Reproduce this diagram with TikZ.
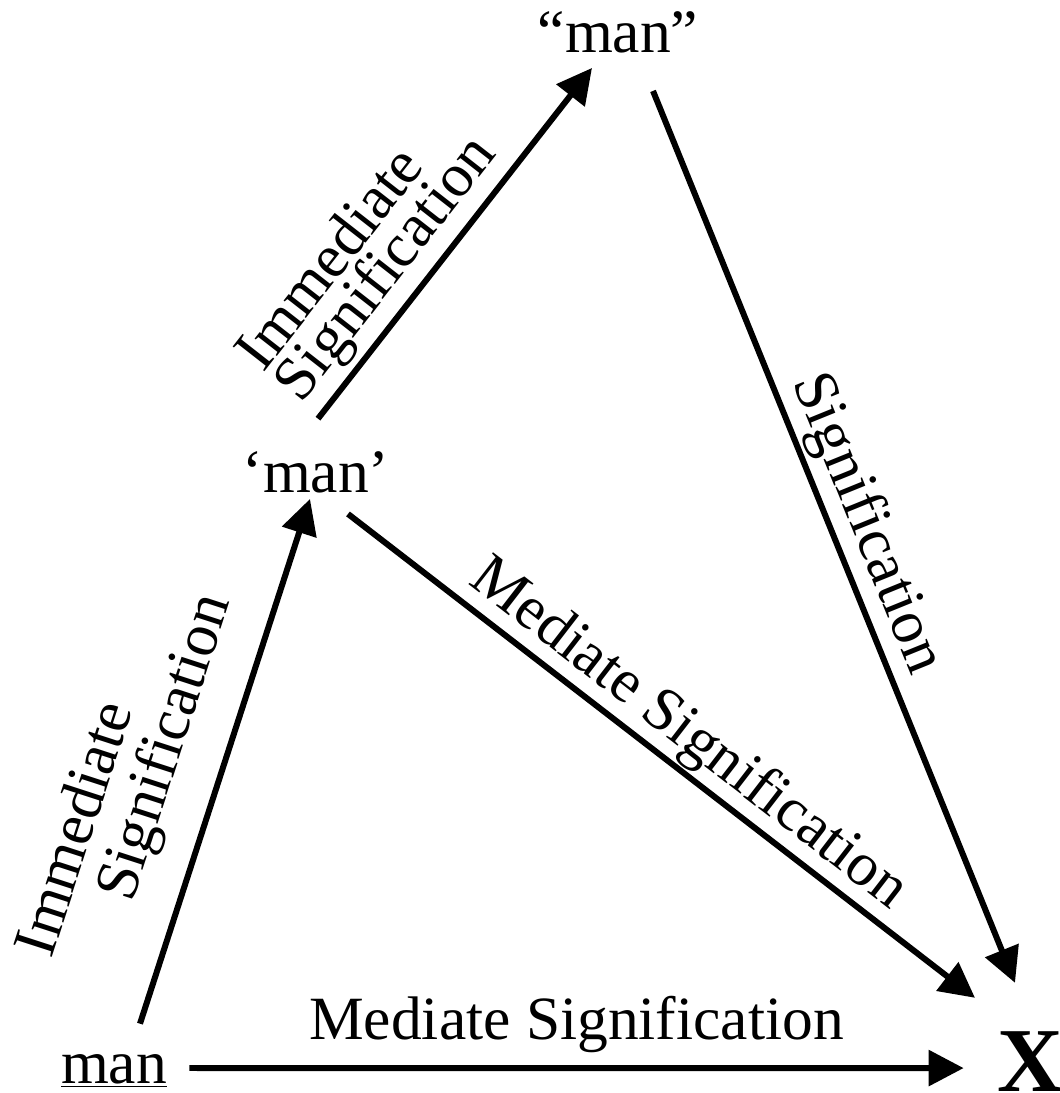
\documentclass[tikz,border=0pt]{standalone}
\usepackage{fontspec}
\setmainfont{Liberation Serif}
\usetikzlibrary{arrows.meta}
\tikzset{sig/.style={line width=0.12cm,-{Triangle[length=0.7cm,width=0.7cm]}}}
\tikzset{word/.style={inner sep=0pt,font=\fontsize{35}{36}\selectfont}}
\tikzset{lbl/.style={inner sep=2pt,font=\fontsize{35}{36}\selectfont}}

\begin{document}
\begin{tikzpicture}[x=0.02cm,y=0.02cm]
  \useasboundingbox (0,0) rectangle (1060,1093);
  % draw the words
  \node[word,anchor=base] (thing) at (114,10) {\underline{man}};
  \node[word,anchor=base] (concept) at (316,600) {`man'};
  \node[word,anchor=base] (quoted) at (618,1040) {``man''};
  \node[word,anchor=base,font=\fontsize{52}{52}\selectfont\bfseries] (x) at (1030,2) {X};
  % draw the arrows with their labels
  \draw[sig] ([shift={(22,15)}]thing.base east) -- ([shift={(-33,-7)}]x.west)
    node[lbl,midway,above=5pt] {Mediate Signification};
  \draw[sig] ([shift={(26,30)}]thing.north) -- ([shift={(-6,-5)}]concept.south)
    node[lbl,sloped,pos=0.30,above=55pt] {Immediate}
    node[lbl,sloped,pos=0.49,above=14pt] {Signification};
  \draw[sig] ([shift={(2,33)}]concept.north) -- ([shift={(-26,-14)}]quoted.south)
    node[lbl,sloped,pos=0.30,above=36pt] {Immediate}
    node[lbl,sloped,pos=0.36,above=1pt] {Signification};
  \draw[sig] ([shift={(32,-20)}]concept.south) -- ([shift={(-55,33)}]x.north)
    node[lbl,sloped,pos=0.51,above=-1pt] {Mediate Signification};
  \draw[sig] ([shift={(35,-37)}]quoted.south) -- ([shift={(-15,48)}]x.north)
    node[lbl,sloped,pos=0.5,above=0pt] {Signification};
\end{tikzpicture}
\end{document}
